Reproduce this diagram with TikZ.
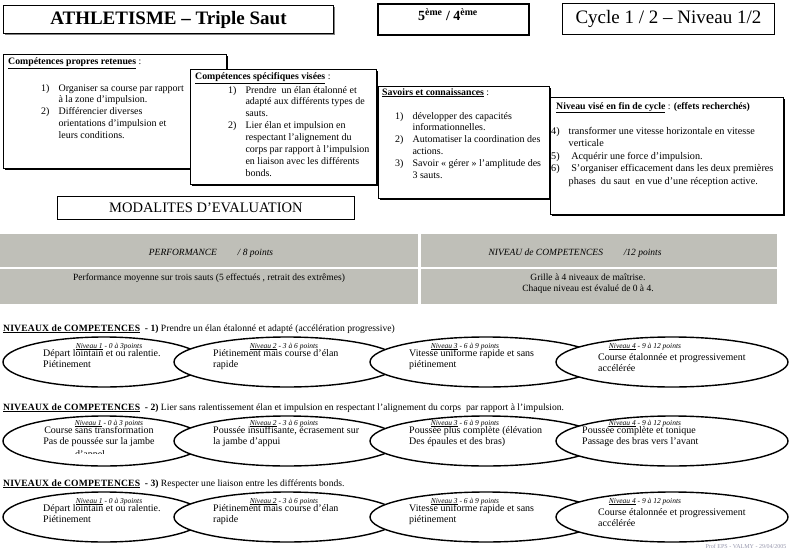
\documentclass[tikz,border=0pt]{standalone}
\usepackage{fontspec}
\setmainfont{Liberation Serif}
\usetikzlibrary{positioning,shapes.geometric,shadows}
\definecolor{gris}{RGB}{191,191,184}
\definecolor{signature}{RGB}{150,150,172}
\newcommand{\lignes}[2][l]{\begin{tabular}[t]{@{}#1@{}}#2\end{tabular}}
\newcommand{\items}[1]{\begin{tabular}[t]{@{}l@{\hspace{9pt}}l@{}}#1\end{tabular}}
\newcommand{\niv}[2]{\underline{Niveau #1} - #2}
\newcommand{\titreniv}[1]{\textbf{\underline{\addfontfeature{LetterSpace=2}NIVEAUX de COMPETENCES}}\ \ \textbf{- #1)}}
\renewcommand{\arraystretch}{1.1}

\begin{document}
\begin{tikzpicture}[
    x=1pt, y=-1pt,
    cadre/.style={rectangle, draw, line width=1.2pt, fill=white,
                  anchor=north west, inner sep=0pt,
                  drop shadow={shadow xshift=1.3pt, shadow yshift=-1.3pt,
                               fill=black, opacity=1}},
    entete/.style={rectangle, draw, fill=white, anchor=north west,
                   inner sep=0pt},
    bande/.style={rectangle, fill=gris, anchor=north west, inner sep=0pt},
    ovale/.style={ellipse, draw, line width=1.4pt, fill=white,
                  inner sep=0pt, minimum height=50pt},
    txt/.style={font=\fontsize{10}{10.8}\selectfont, inner sep=0pt,
                anchor=base west},
    etiq/.style={font=\fontsize{7.5}{8}\selectfont\itshape, inner sep=0pt,
                 anchor=base},
    rubrique/.style={font=\fontsize{9.8}{11}\selectfont\bfseries,
                     inner sep=0pt, anchor=base west}
  ]
  \useasboundingbox (0,0) rectangle (792,551);

  % en-tete
  \node[entete, line width=0.9pt, minimum width=330pt, minimum height=28pt,
        font=\fontsize{19}{22}\selectfont\bfseries,
        drop shadow={shadow xshift=1.5pt, shadow yshift=-1.5pt,
                     fill=gray, opacity=1}] (titre) at (3,5)
    {ATHLETISME – Triple Saut};
  \node[entete, line width=2pt, minimum width=151pt, minimum height=31pt]
    (classe) at (377,3) {};
  \node[font=\fontsize{14}{16}\selectfont\bfseries, inner sep=0pt]
    (classe-t) at (448,15) {5\textsuperscript{ème} / 4\textsuperscript{ème}};
  \node[entete, line width=0.8pt, minimum width=212pt, minimum height=31pt,
        font=\fontsize{19}{22}\selectfont] (cycle) at (562,3)
    {Cycle 1 / 2 – Niveau 1/2};

  % les quatre cadres
  \node[cadre, minimum width=223pt, minimum height=114pt] (propres) at (3,54) {};
  \node[rubrique] (propres-t) at (8,65)
    {\underline{Compétences propres retenues}\mdseries\ :};
  \node[txt] (propres-l) at (41,91) {\items{
    1) & Organiser sa course par rapport\\
       & à la zone d'impulsion.\\
    2) & Différencier diverses\\
       & orientations d'impulsion et\\
       & leurs conditions.}};

  \node[cadre, minimum width=186pt, minimum height=115pt] (specif) at (190,69) {};
  \node[rubrique] (specif-t) at (195,80)
    {\underline{Compétences spécifiques visées}\mdseries\ :};
  \node[txt] (specif-l) at (228,93) {\items{
    1) & Prendre \ un élan étalonné et\\
       & adapté aux différents types de\\
       & sauts.\\
    2) & Lier élan et impulsion en\\
       & respectant l'alignement du\\
       & corps par rapport à l'impulsion\\
       & en liaison avec les différents\\
       & bonds.}};

  \node[cadre, minimum width=171pt, minimum height=112pt] (savoirs) at (378,86) {};
  \node[rubrique] (savoirs-t) at (382,95)
    {\underline{Savoirs et connaissances}\mdseries\ :};
  \node[txt] (savoirs-l) at (395,119) {\items{
    1) & développer des capacités\\
       & informationnelles.\\
    2) & Automatiser la coordination des\\
       & actions.\\
    3) & Savoir « gérer » l'amplitude des\\
       & 3 sauts.}};

  \node[cadre, minimum width=233pt, minimum height=117pt] (niveau) at (550,97) {};
  \node[rubrique] (niveau-t) at (556,109)
    {\underline{Niveau visé en fin de cycle}\mdseries\ : \bfseries(effets recherchés)};
  \node[txt, font=\fontsize{10.2}{11.4}\selectfont] (niveau-l) at (551,134) {\items{
    4) & transformer une vitesse horizontale en vitesse\\
       & verticale\\
    5) & \ Acquérir une force d'impulsion.\\
    6) & \ S'organiser efficacement dans les deux premières\\
       & phases \ du saut \ en vue d'une réception active.}};

  % modalites
  \node[entete, line width=0.8pt, minimum width=297pt, minimum height=23pt,
        font=\fontsize{14.5}{16}\selectfont] (modalites) at (57,196)
    {MODALITES D'EVALUATION};

  \node[bande, minimum width=418pt, minimum height=33pt] (perf) at (0,234) {};
  \node[bande, minimum width=356pt, minimum height=33pt] (comp) at (421,234) {};
  \node[bande, minimum width=418pt, minimum height=35pt] (perf2) at (0,269) {};
  \node[bande, minimum width=356pt, minimum height=35pt] (comp2) at (421,269) {};
  \node[txt, anchor=base, font=\fontsize{9.5}{11}\selectfont\itshape] (perf-t)
    at (211,255) {PERFORMANCE \hspace{16pt} / 8 points};
  \node[txt, anchor=base, font=\fontsize{9.5}{11}\selectfont\itshape] (comp-t)
    at (575,255) {NIVEAU de COMPETENCES \hspace{16pt} /12 points};
  \node[txt, anchor=base, font=\fontsize{9.5}{11}\selectfont] (perf2-t) at (209,280)
    {Performance moyenne sur trois sauts (5 effectués , retrait des extrêmes)};
  \node[txt, anchor=base, font=\fontsize{9.5}{10}\selectfont] (comp2-t) at (588,280)
    {\lignes[c]{Grille à 4 niveaux de maîtrise.\\Chaque niveau est évalué de 0 à 4.}};

  % niveaux de competences 1
  \node[txt, font=\fontsize{9.6}{11}\selectfont] (c1) at (3,331)
    {\titreniv{1} Prendre un élan étalonné et adapté (accélération progressive)};
  \node[ovale, minimum width=202pt] (c1a) at (104,362) {};
  \node[ovale, minimum width=226pt] (c1b) at (287,362) {};
  \node[ovale, minimum width=232pt] (c1c) at (486,362) {};
  \node[ovale, minimum width=232pt] (c1d) at (672,362) {};
  \node[etiq] (c1a-n) at (109,348) {\niv{1}{0 à 3points}};
  \node[etiq] (c1b-n) at (284,348) {\niv{2}{3 à 6 points}};
  \node[etiq] (c1c-n) at (465,348) {\niv{3}{6 à 9 points}};
  \node[etiq] (c1d-n) at (645,348) {\niv{4}{9 à 12 points}};
  \node[txt] (c1a-t) at (43,356) {\lignes{Départ lointain et ou ralentie.\\Piétinement}};
  \node[txt] (c1b-t) at (213,356) {\lignes{Piétinement mais course d'élan\\rapide}};
  \node[txt] (c1c-t) at (409,356) {\lignes{Vitesse uniforme rapide et sans\\piétinement}};
  \node[txt] (c1d-t) at (598,360) {\lignes{Course étalonnée et progressivement\\accélérée}};

  % niveaux de competences 2
  \node[txt, font=\fontsize{9.6}{11}\selectfont] (c2) at (3,410)
    {\titreniv{2} Lier sans ralentissement élan et impulsion en respectant l'alignement du corps \ par rapport à l'impulsion.};
  \node[ovale, minimum width=202pt] (c2a) at (104,441) {};
  \node[ovale, minimum width=226pt] (c2b) at (287,441) {};
  \node[ovale, minimum width=232pt] (c2c) at (486,441) {};
  \node[ovale, minimum width=232pt] (c2d) at (672,441) {};
  \node[etiq] (c2a-n) at (109,425) {\niv{1}{0 à 3 points}};
  \node[etiq] (c2b-n) at (284,425) {\niv{2}{3 à 6 points}};
  \node[etiq] (c2c-n) at (465,425) {\niv{3}{6 à 9 points}};
  \node[etiq] (c2d-n) at (645,425) {\niv{4}{9 à 12 points}};
  \node[txt, anchor=base] (c2a-t) at (99,433)
    {\lignes[c]{Course sans transformation\\Pas de poussée sur la jambe}};
  \begin{scope}
    \clip (40,440) rectangle (160,453.5);
    \node[txt, anchor=base] (c2a-x) at (90,457) {d'appel};
  \end{scope}
  \node[txt] (c2b-t) at (213,433) {\lignes{Poussée insuffisante, écrasement sur\\la jambe d'appui}};
  \node[txt] (c2c-t) at (409,433) {\lignes{Poussée plus complète (élévation\\Des épaules et des bras)}};
  \node[txt] (c2d-t) at (582,433) {\lignes{Poussée complète et tonique\\Passage des bras vers l'avant}};

  % niveaux de competences 3
  \node[txt, font=\fontsize{9.6}{11}\selectfont] (c3) at (3,486)
    {\titreniv{3} Respecter une liaison entre les différents bonds.};
  \node[ovale, minimum width=202pt] (c3a) at (104,517) {};
  \node[ovale, minimum width=226pt] (c3b) at (287,517) {};
  \node[ovale, minimum width=232pt] (c3c) at (486,517) {};
  \node[ovale, minimum width=232pt] (c3d) at (672,517) {};
  \node[etiq] (c3a-n) at (109,503) {\niv{1}{0 à 3points}};
  \node[etiq] (c3b-n) at (284,503) {\niv{2}{3 à 6 points}};
  \node[etiq] (c3c-n) at (465,503) {\niv{3}{6 à 9 points}};
  \node[etiq] (c3d-n) at (645,503) {\niv{4}{9 à 12 points}};
  \node[txt] (c3a-t) at (43,511) {\lignes{Départ lointain et ou ralentie.\\Piétinement}};
  \node[txt] (c3b-t) at (213,511) {\lignes{Piétinement mais course d'élan\\rapide}};
  \node[txt] (c3c-t) at (409,511) {\lignes{Vitesse uniforme rapide et sans\\piétinement}};
  \node[txt] (c3d-t) at (598,515) {\lignes{Course étalonnée et progressivement\\accélérée}};

  \node[inner sep=0pt, anchor=base, text=signature,
        font=\fontsize{6}{7}\selectfont] (signe) at (746,548)
    {Prof EPS - VALMY - 29/04/2005};
\end{tikzpicture}
\end{document}
